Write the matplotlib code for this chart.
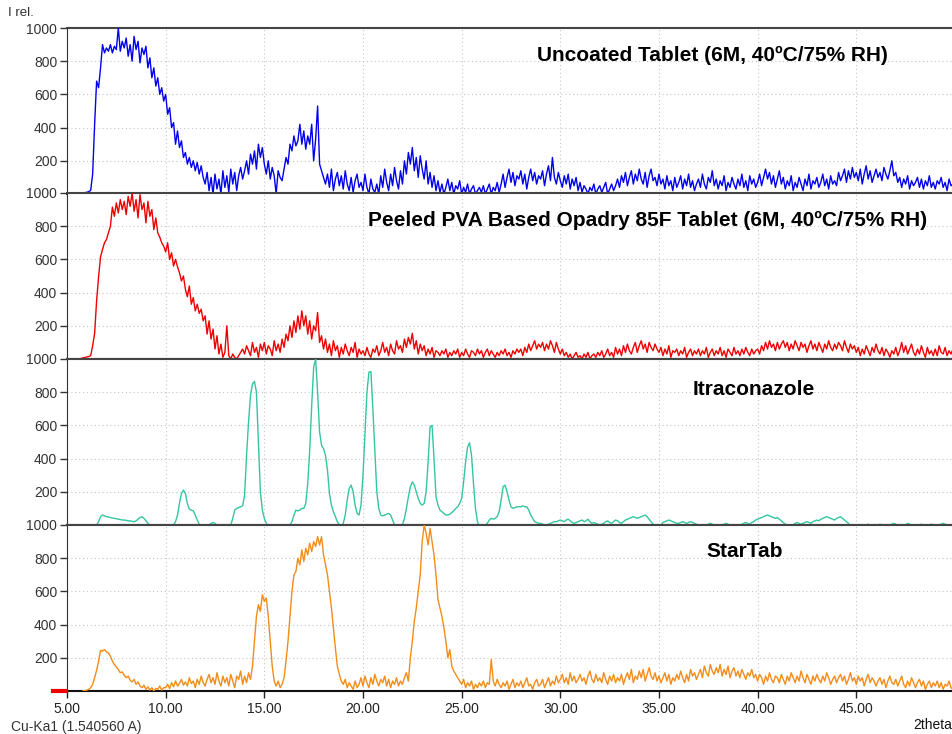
import numpy as np
import matplotlib
matplotlib.use("Agg")
import matplotlib.pyplot as plt
from matplotlib.lines import Line2D
from matplotlib.patches import Rectangle

plt.rcParams['font.family'] = ['Liberation Sans', 'DejaVu Sans']

# --- Data: relative intensity, 0.1 deg steps from 5.0 to 49.9 ---
two_theta_start = 5.0
two_theta_step = 0.1
nan = np.nan

uncoated = [
    5, 5, 6, 5, 6, 6, 7, 6, 8, 8,
    10, 14, 22, 120, 420, 680, 640, 760, 900, 850,
    880, 860, 900, 850, 890, 870, 1000, 860, 920, 880,
    940, 830, 900, 800, 950, 870, 920, 790, 880, 840,
    890, 760, 820, 700, 760, 650, 700, 600, 640, 560,
    600, 480, 520, 400, 430, 300, 380, 280, 320, 220,
    250, 180, 220, 160, 200, 140, 190, 120, 170, 100,
    60, 130, 20, 100, 0, 120, 30, 90, 0, 140,
    40, 110, 10, 150, 60, 130, 20, 110, 160, 90,
    140, 200, 120, 240, 180, 260, 150, 300, 220, 280,
    180, 120, 200, 90, 160, 110, 0, 140, 100, 80,
    150, 220, 180, 300, 260, 350, 290, 320, 420, 300,
    380, 270, 350, 300, 420, 200, 330, 530, 180, 140,
    100, 60, 120, 40, 150, 20, 90, 130, 50, 110,
    30, 140, 60, 20, 100, 10, 80, 120, 40, 70,
    20, 120, 40, 0, 90, 30, 10, 60, 0, 110,
    40, 150, 70, 20, 120, 50, 160, 80, 30, 140,
    60, 200, 120, 250, 180, 280, 140, 220, 100, 230,
    150, 90, 200, 60, 130, 40, 110, 20, 80, 10,
    60, 0, 40, 90, 20, 70, 0, 50, 30, 80,
    0, 40, 10, 60, 0, 30, 50, 0, 20, 40,
    10, 50, 0, 30, 60, 0, 40, 20, 70, 10,
    60, 120, 40, 100, 150, 70, 130, 50, 110, 90,
    140, 60, 120, 30, 100, 150, 80, 130, 60, 110,
    90, 140, 50, 120, 170, 80, 220, 100, 60, 130,
    80, 40, 110, 60, 120, 30, 90, 50, 100, 20,
    70, 10, 50, 30, 0, 40, 20, 60, 0, 30,
    50, 10, 40, 70, 0, 30, 60, 20, 50, 90,
    40, 110, 70, 130, 50, 100, 140, 60, 120, 80,
    150, 90, 60, 130, 40, 110, 150, 80, 100, 50,
    120, 60, 90, 30, 110, 50, 80, 20, 100, 40,
    70, 110, 30, 90, 50, 120, 40, 80, 20, 60,
    90, 40, 120, 60, 30, 100, 70, 140, 50, 90,
    30, 80, 50, 110, 20, 70, 40, 100, 60, 30,
    90, 50, 120, 40, 80, 20, 110, 60, 90, 40,
    70, 120, 50, 100, 150, 90, 130, 60, 110, 40,
    90, 140, 60, 100, 30, 80, 50, 110, 20, 70,
    40, 100, 60, 20, 90, 50, 120, 30, 80, 60,
    100, 40, 70, 120, 50, 90, 30, 110, 60, 80,
    50, 130, 80, 110, 150, 70, 140, 90, 160, 100,
    130, 80, 150, 60, 120, 170, 90, 140, 70, 110,
    150, 100, 130, 80, 160, 120, 90, 140, 200, 110,
    130, 70, 100, 40, 90, 60, 110, 30, 80, 50,
    70, 100, 40, 90, 30, 80, 50, 110, 40, 70,
    30, 80, 60, 100, 40, 70, 20, 90, 50, 60,
]

peeled_opadry = [
    nan, nan, nan, nan, nan, nan, 0, 3, 6, 9,
    12, 15, 20, 80, 155, 350, 495, 615, 660, 700,
    720, 760, 800, 915, 860, 940, 880, 960, 900, 950,
    870, 980, 920, 1000, 890, 960, 850, 990, 900, 940,
    820, 950, 860, 900, 780, 850, 760, 735, 700, 680,
    645, 700, 600, 640, 560, 600, 555, 520, 470, 500,
    420, 375, 440, 330, 370, 290, 330, 275, 300, 230,
    260, 150, 230, 120, 180, 60, 140, 30, 90, 10,
    40, 200, 20, 0, 30, 10, 0, 20, 40, 60,
    30, 80, 50, 20, 100, 40, 70, 10, 90, 50,
    100, 30, 80, 60, 20, 110, 50, 90, 40, 120,
    70, 150, 110, 200, 130, 230, 160, 260, 180, 290,
    200, 260, 150, 230, 120, 200, 170, 280, 100, 140,
    60, 120, 40, 90, 20, 110, 50, 80, 10, 70,
    30, 90, 50, 20, 70, 40, 100, 10, 60, 30,
    50, 20, 70, 30, 10, 60, 40, 80, 20, 50,
    100, 40, 70, 20, 90, 50, 30, 110, 60, 80,
    40, 120, 70, 130, 90, 155, 60, 110, 30, 90,
    50, 80, 20, 60, 30, 70, 10, 50, 40, 20,
    50, 30, 60, 10, 40, 20, 50, 30, 60, 10,
    40, 20, 60, 30, 10, 50, 40, 20, 60, 30,
    50, 10, 40, 60, 20, 50, 30, 10, 40, 20,
    50, 30, 60, 20, 40, 10, 50, 30, 60, 40,
    60, 20, 70, 40, 90, 50, 80, 110, 60, 90,
    70, 100, 50, 90, 60, 110, 80, 40, 100, 60,
    30, 60, 20, 40, 10, 30, 0, 20, 40, 10,
    20, 0, 30, 10, 40, 0, 20, 30, 10, 40,
    20, 50, 10, 30, 60, 20, 40, 10, 70, 30,
    60, 20, 80, 40, 90, 50, 30, 70, 100, 40,
    80, 110, 60, 90, 40, 100, 70, 50, 90, 60,
    40, 70, 20, 60, 30, 80, 10, 50, 40, 60,
    20, 50, 30, 70, 10, 40, 60, 20, 50, 30,
    60, 20, 50, 30, 70, 10, 40, 60, 20, 50,
    30, 70, 20, 50, 10, 60, 40, 20, 70, 30,
    50, 20, 60, 30, 70, 40, 20, 60, 30, 50,
    60, 30, 80, 50, 100, 60, 110, 70, 90, 50,
    100, 60, 90, 110, 70, 100, 50, 90, 60, 110,
    80, 50, 100, 70, 90, 40, 80, 110, 60, 90,
    50, 100, 70, 40, 90, 60, 110, 70, 50, 90,
    60, 100, 80, 50, 110, 70, 40, 90, 60, 80,
    40, 70, 20, 60, 30, 80, 50, 20, 70, 40,
    90, 50, 30, 70, 20, 60, 40, 10, 50, 30,
    70, 20, 50, 100, 40, 80, 30, 60, 90, 40,
    20, 60, 30, 80, 40, 10, 70, 30, 50, 20,
    60, 20, 80, 40, 30, 70, 20, 50, 30, 60,
]

itraconazole = [
    nan, nan, nan, nan, nan, nan, nan, nan, nan, nan,
    nan, nan, nan, nan, nan, 0, 20, 50, 60, 55,
    50, 48, 45, 42, 40, 38, 35, 33, 30, 30,
    28, 25, 25, 22, 20, 25, 35, 45, 50, 40,
    25, 10, 0, -10, -10, -10, -10, -10, -10, -10,
    -10, -10, -10, -10, 0, 20, 60, 130, 190, 210,
    190, 130, 95, 90, 85, 60, 30, 5, -10, -10,
    -10, -10, 0, 10, 15, 10, 0, -10, -10, -10,
    -10, -10, -10, 0, 40, 90, 100, 105, 110, 115,
    180, 420, 620, 780, 850, 865, 800, 500, 200, 90,
    40, 10, -10, -10, -10, -10, -10, -10, -10, -10,
    -10, -10, -10, 0, 20, 60, 90, 85, 90, 100,
    100, 130, 250, 450, 720, 950, 1000, 800, 560, 480,
    460, 420, 330, 190, 120, 80, 50, 20, 0, -10,
    10, 60, 150, 220, 240, 200, 120, 70, 60, 120,
    300, 550, 800, 920, 925, 700, 450, 200, 100, 60,
    55, 60, 65, 70, 60, 30, 0, -10, -10, -10,
    0, 40, 100, 170, 230, 260, 240, 200, 160, 130,
    120, 130, 200, 380, 590, 600, 400, 170, 120, 90,
    80, 70, 60, 60, 65, 75, 85, 100, 110, 130,
    160, 260, 380, 470, 495, 420, 250, 100, 20, -10,
    -10, -10, 0, 10, 30, 40, 35, 40, 50, 80,
    150, 230, 240, 200, 150, 110, 100, 105, 110, 110,
    110, 115, 110, 110, 90, 60, 40, 20, 15, 10,
    10, 5, 0, 0, 5, 10, 15, 20, 20, 25,
    30, 25, 20, 30, 35, 25, 15, 10, 15, 20,
    25, 30, 20, 25, 35, 20, 10, 15, 10, 5,
    0, 5, 10, 20, 25, 15, 10, 20, 30, 25,
    15, 10, 20, 30, 35, 40, 45, 50, 45, 40,
    45, 50, 55, 60, 50, 35, 20, 5, -10, -10,
    -10, 0, 15, 20, 25, 30, 25, 20, 15, 10,
    10, 15, 20, 15, 10, 15, 20, 15, 10, 5,
    0, -10, -10, -10, 0, 5, 10, 5, 0, -10,
    -10, -10, 0, 5, 10, 5, 0, -10, -10, -10,
    -10, 0, 5, 10, 15, 10, 5, 15, 20, 30,
    35, 40, 45, 50, 55, 60, 55, 50, 45, 40,
    45, 35, 25, 15, 5, 0, -10, -10, 0, 10,
    15, 10, 5, 10, 15, 20, 15, 10, 20, 25,
    30, 25, 35, 40, 45, 50, 45, 40, 35, 30,
    40, 45, 50, 40, 30, 20, 10, -10, -10, -10,
    -10, -10, -10, -10, -10, 0, 5, 0, -10, -10,
    -10, 0, 5, 0, -10, -10, -10, 0, 5, 10,
    5, 0, -10, -10, -10, 0, 10, 5, 0, -10,
    -10, -10, 0, 5, 0, -10, -10, 0, 5, 0,
    -10, -10, 0, 5, 10, 5, 0, -10, 0, 5,
]

startab = [
    nan, nan, nan, nan, nan, nan, nan, nan, 0, 2,
    5, 10, 20, 40, 80, 125, 180, 245, 240, 250,
    235, 230, 210, 180, 160, 145, 130, 110, 115, 95,
    80, 90, 65, 55, 70, 40, 55, 30, 20, 35,
    10, 25, 5, 20, 0, 15, 10, 30, 5, 20,
    20, 40, 15, 50, 25, 60, 30, 45, 70, 35,
    55, 30, 80, 45, 60, 20, 70, 40, 90, 50,
    30, 70, 100, 50, 80, 40, 110, 60, 30, 90,
    50, 80, 30, 100, 60, 20, 90, 70, 120, 40,
    90, 50, 110, 70, 150, 300, 450, 520, 480, 580,
    540, 560, 450, 300, 150, 60, 30, 60, 20, 40,
    80, 180, 300, 450, 600, 700, 720, 800, 760, 850,
    780, 860, 820, 890, 840, 900, 870, 930, 880, 930,
    820, 760, 700, 600, 500, 380, 260, 150, 100, 60,
    40, 70, 20, 50, 30, 10, 60, 20, 40, 80,
    30, 90, 50, 20, 80, 40, 100, 60, 30, 70,
    50, 90, 30, 70, 20, 60, 40, 80, 30, 60,
    40, 80, 110, 60, 200, 300, 420, 500, 600, 700,
    900, 1000, 950, 880, 980, 900, 820, 700, 550, 500,
    450, 380, 300, 200, 250, 150, 120, 100, 80, 60,
    40, 70, 20, 50, 30, 60, 10, 40, 20, 50,
    30, 60, 20, 50, 40, 190, 60, 30, 70, 40,
    20, 50, 30, 60, 10, 40, 70, 20, 50, 30,
    60, 20, 50, 80, 30, 40, 10, 50, 70, 30,
    40, 70, 20, 50, 80, 30, 60, 40, 90, 50,
    70, 100, 50, 80, 40, 110, 60, 90, 50, 70,
    100, 60, 80, 40, 90, 120, 70, 50, 100, 60,
    80, 50, 110, 70, 40, 90, 60, 100, 50, 80,
    60, 100, 40, 80, 110, 70, 130, 50, 90, 70,
    120, 80, 130, 60, 100, 140, 90, 70, 110, 60,
    90, 50, 80, 110, 60, 100, 40, 80, 60, 100,
    70, 120, 80, 50, 100, 60, 130, 90, 110, 70,
    100, 130, 80, 150, 110, 90, 160, 120, 100, 140,
    110, 160, 90, 130, 100, 150, 80, 120, 140, 90,
    120, 80, 130, 100, 70, 110, 90, 130, 80, 100,
    60, 100, 80, 40, 90, 60, 110, 70, 50, 90,
    80, 50, 100, 70, 40, 90, 60, 110, 80, 50,
    90, 60, 120, 80, 50, 100, 70, 40, 90, 60,
    100, 70, 50, 90, 60, 110, 80, 40, 70, 90,
    50, 80, 100, 60, 90, 40, 70, 110, 60, 80,
    40, 90, 60, 80, 30, 70, 100, 50, 80, 60,
    30, 60, 80, 40, 70, 20, 60, 90, 50, 40,
    70, 30, 60, 90, 40, 20, 60, 30, 80, 50,
    20, 50, 70, 30, 60, 10, 40, 60, 20, 50,
    30, 60, 20, 50, 10, 40, 30, 60, 20, 10,
]

labels = [
    'Uncoated Tablet (6M, 40ºC/75% RH)',
    'Peeled PVA Based Opadry 85F Tablet (6M, 40ºC/75% RH)',
    'Itraconazole',
    'StarTab',
]
series = [uncoated, peeled_opadry, itraconazole, startab]
colors = ['#0000ee', '#ee0000', '#33c6a0', '#f28c1a']

x_ticks = [5, 10, 15, 20, 25, 30, 35, 40, 45]
y_ticks = [200, 400, 600, 800, 1000]

# --- Figure layout (pixels of a 953x734 image) ---
W, H = 953, 734
fig = plt.figure(figsize=(W / 100, H / 100), dpi=100)

left_px, right_px = 67, 953
panel_tops = [28, 193, 359, 525]
panel_h = 166

# where each label sits (axes fraction) and the white box behind it
label_pos = [(0.728, 0.837), (0.655, 0.837), (0.775, 0.815), (0.765, 0.843)]
label_boxes = [(0.468, 0.74, 0.521), (0.316, 0.717, 0.684), (0.551, 0.705, 0.44), (0.60, 0.70, 0.36)]

axes = []
for i, (vals, col) in enumerate(zip(series, colors)):
    top = panel_tops[i]
    ax = fig.add_axes([left_px / W, 1 - (top + panel_h) / H,
                       (right_px - left_px) / W, panel_h / H])
    y = np.array(vals, dtype=float)
    x = two_theta_start + two_theta_step * np.arange(len(y))
    ax.plot(x, y, color=col, lw=1.0, zorder=3)
    ax.set_xlim(5.0, 49.9)
    ax.set_ylim(0, 1000)
    ax.set_xticks(x_ticks)
    ax.set_yticks(y_ticks)
    ax.grid(True, ls=(0, (1, 2.5)), color='#c4c4c4', lw=0.8, zorder=0)
    bx, by, bw = label_boxes[i]
    ax.add_patch(Rectangle((bx, by), bw, 1 - by, transform=ax.transAxes,
                           fc='white', ec='none', zorder=1))
    ax.text(label_pos[i][0], label_pos[i][1], labels[i], transform=ax.transAxes,
            ha='center', va='center', fontsize=15, fontweight='bold', zorder=4)
    ax.tick_params(axis='y', direction='out', length=5, width=1, labelsize=10,
                   colors='#333333', pad=2)
    ax.tick_params(axis='x', direction='out', length=5, width=1, labelsize=10,
                   colors='#222222', pad=3)
    ax.spines['right'].set_visible(False)
    ax.spines['left'].set_color('#333333')
    ax.spines['top'].set_color('#444444')
    ax.spines['top'].set_linewidth(1.5)
    ax.spines['bottom'].set_color('#111111')
    ax.spines['bottom'].set_linewidth(1.5)
    if i < 3:
        ax.tick_params(axis='x', bottom=False, labelbottom=False)
    ax.set_xticklabels([f'{t:.2f}' for t in x_ticks])
    axes.append(ax)

# small red marker left of the bottom axis origin
fig.add_artist(Line2D([53 / W, 66 / W], [1 - 691 / H, 1 - 691 / H], color='#ee0000', lw=3))

fig.text(8 / W, 1 - 13 / H, 'I rel.', fontsize=9.5, color='#333333', va='center', ha='left')
fig.text(11 / W, 1 - 727 / H, 'Cu-Ka1 (1.540560 A)', fontsize=10, color='#333333', va='center', ha='left')
fig.text(952 / W, 1 - 725 / H, '2theta', fontsize=10, color='#111111', va='center', ha='right')

fig.savefig('out.png', dpi=100)
